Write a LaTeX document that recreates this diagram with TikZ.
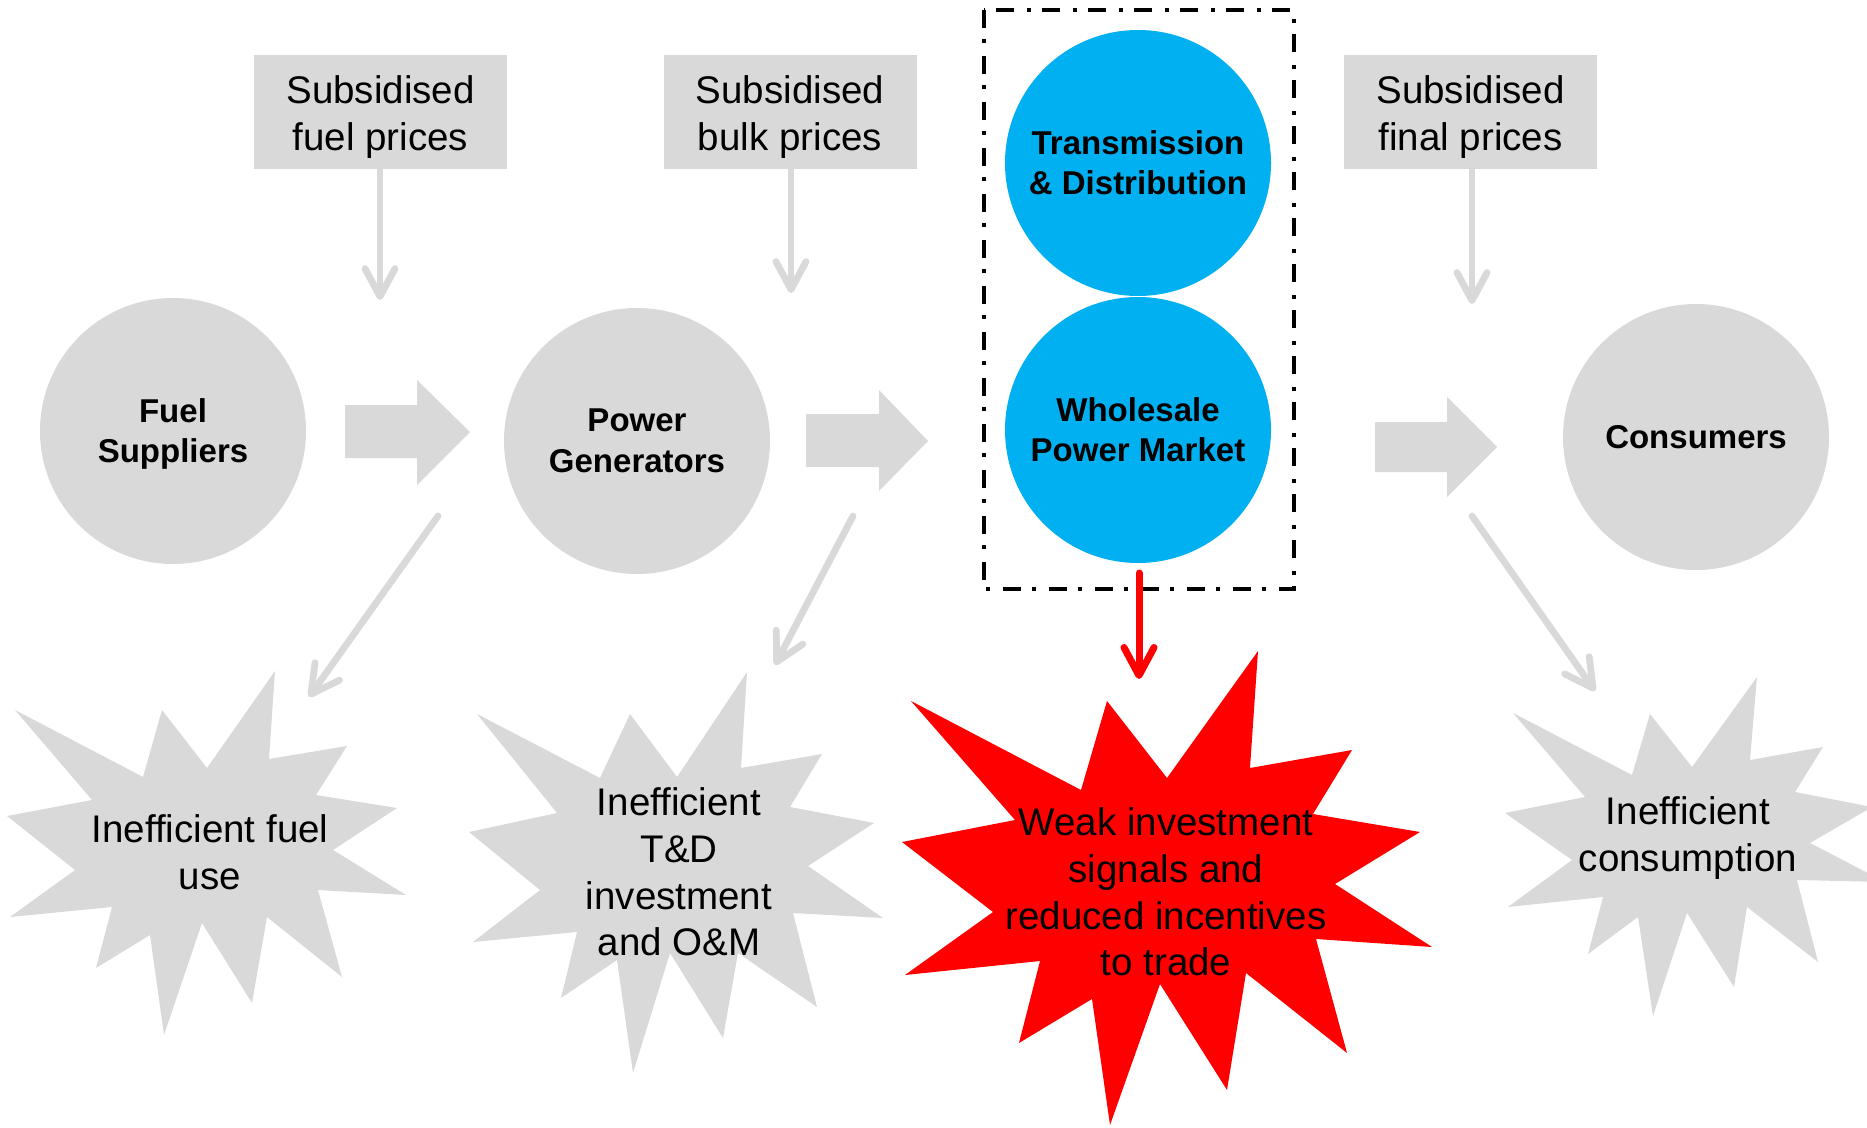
\documentclass[tikz,border=0pt]{standalone}
\usepackage{fontspec}
\setmainfont{Liberation Sans}
\usetikzlibrary{arrows.meta}
\definecolor{lgray}{HTML}{D9D9D9}
\definecolor{cyanb}{HTML}{00B0F0}
\definecolor{redb}{HTML}{FF0000}
\begin{document}
\begin{tikzpicture}[x=0.5pt,y=-0.5pt,
  circ/.style={circle,fill=lgray,minimum size=133pt,inner sep=0pt,align=center,
    font=\fontsize{16.5pt}{20.2pt}\selectfont\bfseries},
  bcirc/.style={circ,fill=cyanb},
  topbox/.style={fill=lgray,minimum width=126.5pt,minimum height=57pt,inner sep=0pt},
  boxtext/.style={align=center,inner sep=0pt,font=\fontsize{19.25pt}{23.8pt}\selectfont},
  bursttext/.style={align=center,inner sep=0pt,font=\fontsize{19.25pt}{23.4pt}\selectfont},
  thinarrow/.style={draw=lgray,line width=3.4pt,line cap=round,
    -{Straight Barb[length=14pt,width=15pt,line cap=round,round]}},
  redarrow/.style={draw=redb,line width=3.5pt,line cap=round,
    -{Straight Barb[length=14pt,width=15pt,line cap=round,round]}},
  blockarrow/.style={fill=lgray},
  groupbox/.style={draw=black,line width=2pt,dash pattern=on 9pt off 5.5pt on 2pt off 6.5pt},
]
\useasboundingbox (0,0) rectangle (1867,1128);

% top boxes
\node[topbox] (b1) at (380.5,112) {};
\node[topbox] (b2) at (790,112) {};
\node[topbox] (b3) at (1470.5,112) {};
\node[boxtext] (b1t) at (380.5,117) {Subsidised\\fuel prices};
\node[boxtext] (b2t) at (790,117) {Subsidised\\bulk prices};
\node[boxtext] (b3t) at (1470.5,117) {Subsidised\\final prices};

% circles
\node[circ] (fs) at (173,431) {};
\node[font=\fontsize{16.5pt}{20.2pt}\selectfont\bfseries,align=center,inner sep=0pt] (fst) at (173,434) {Fuel\\Suppliers};
\node[circ] (pg) at (637,441) {Power\\Generators};
\node[bcirc] (td) at (1138,163) {Transmission\\\& Distribution};
\node[bcirc] (wm) at (1138,430) {Wholesale\\Power Market};
\node[circ] (co) at (1696,437) {Consumers};

% dashed group box
\draw[groupbox] (984,10) rectangle (1294,589);

% block arrows
\path[blockarrow] (345,405) -- (417,405) -- (417,380) -- (470,432) -- (417,485) -- (417,458) -- (345,458) -- cycle;
\path[blockarrow] (806,414) -- (879,414) -- (879,390) -- (928,441) -- (879,491) -- (879,467) -- (806,467) -- cycle;
\path[blockarrow] (1375,422) -- (1447,422) -- (1447,397) -- (1497,447) -- (1447,497) -- (1447,472) -- (1375,472) -- cycle;

% starbursts
\path[fill=lgray] (15,710) -- (143,777) -- (162,710) -- (207,768) -- (275,671) -- (269,759) -- (347,746) -- (316,795) -- (397,808) -- (333,850) -- (406,895) -- (318,890) -- (342,977) -- (267,917) -- (252,1003) -- (202,923) -- (164,1035) -- (150,935) -- (96,968) -- (112,907) -- (10,917) -- (75,870) -- (7,816) -- (92,800) -- cycle;
\path[fill=lgray] (477,714) -- (600,778) -- (630,714) -- (677,777) -- (747,672) -- (741,768) -- (822,754) -- (790,807) -- (874,823) -- (808,866) -- (883,918) -- (793,913) -- (817,1007) -- (738,953) -- (723,1038) -- (670,953) -- (633,1073) -- (617,960) -- (561,998) -- (577,932) -- (473,942) -- (540,890) -- (469,832) -- (557,813) -- cycle;
\path[fill=redb] (911,701) -- (1081,790) -- (1107,701) -- (1167,778) -- (1258,651) -- (1250,768) -- (1352,750) -- (1313,814) -- (1420,832) -- (1335,884) -- (1432,947) -- (1316,939) -- (1347,1053) -- (1246,973) -- (1227,1090) -- (1160,984) -- (1110,1125) -- (1092,999) -- (1019,1043) -- (1040,961) -- (905,975) -- (993,912) -- (902,842) -- (1015,820) -- cycle;
\path[fill=lgray] (1513,713) -- (1632,775) -- (1650,714) -- (1692,767) -- (1757,677) -- (1750,760) -- (1823,747) -- (1795,792) -- (1872,807) -- (1810,843) -- (1885,882) -- (1797,880) -- (1818,962) -- (1747,907) -- (1734,987) -- (1687,913) -- (1653,1016) -- (1638,917) -- (1588,954) -- (1603,897) -- (1508,907) -- (1572,860) -- (1505,813) -- (1585,797) -- cycle;

\node[bursttext] (s1) at (210,852) {Inefficient fuel\\use};
\node[bursttext] (s2) at (679,872) {Inefficient\\T\&D\\investment\\and O\&M};
\node[bursttext] (s3) at (1166,892) {Weak investment\\signals and\\reduced incentives\\to trade};
\node[bursttext] (s4) at (1688,838) {Inefficient\\consumption};

% thin arrows
\coordinate (t1) at (380,300);
\coordinate (t2) at (791,293);
\coordinate (t3) at (1472,304);
\draw[thinarrow] (b1.south -| t1) -- (t1);
\draw[thinarrow] (b2.south -| t2) -- (t2);
\draw[thinarrow] (b3.south -| t3) -- (t3);

\coordinate (d1s) at (438,516);
\coordinate (d1e) at (309,697);
\coordinate (d2s) at (853,516);
\coordinate (d2e) at (775,665);
\coordinate (d3s) at (1472,516);
\coordinate (d3e) at (1595,691);
\draw[thinarrow] (d1s) -- (d1e);
\draw[thinarrow] (d2s) -- (d2e);
\draw[thinarrow] (d3s) -- (d3e);

\coordinate (rs) at (1139,573);
\coordinate (re) at (1139,679);
\draw[redarrow] (rs) -- (re);
\end{tikzpicture}
\end{document}
